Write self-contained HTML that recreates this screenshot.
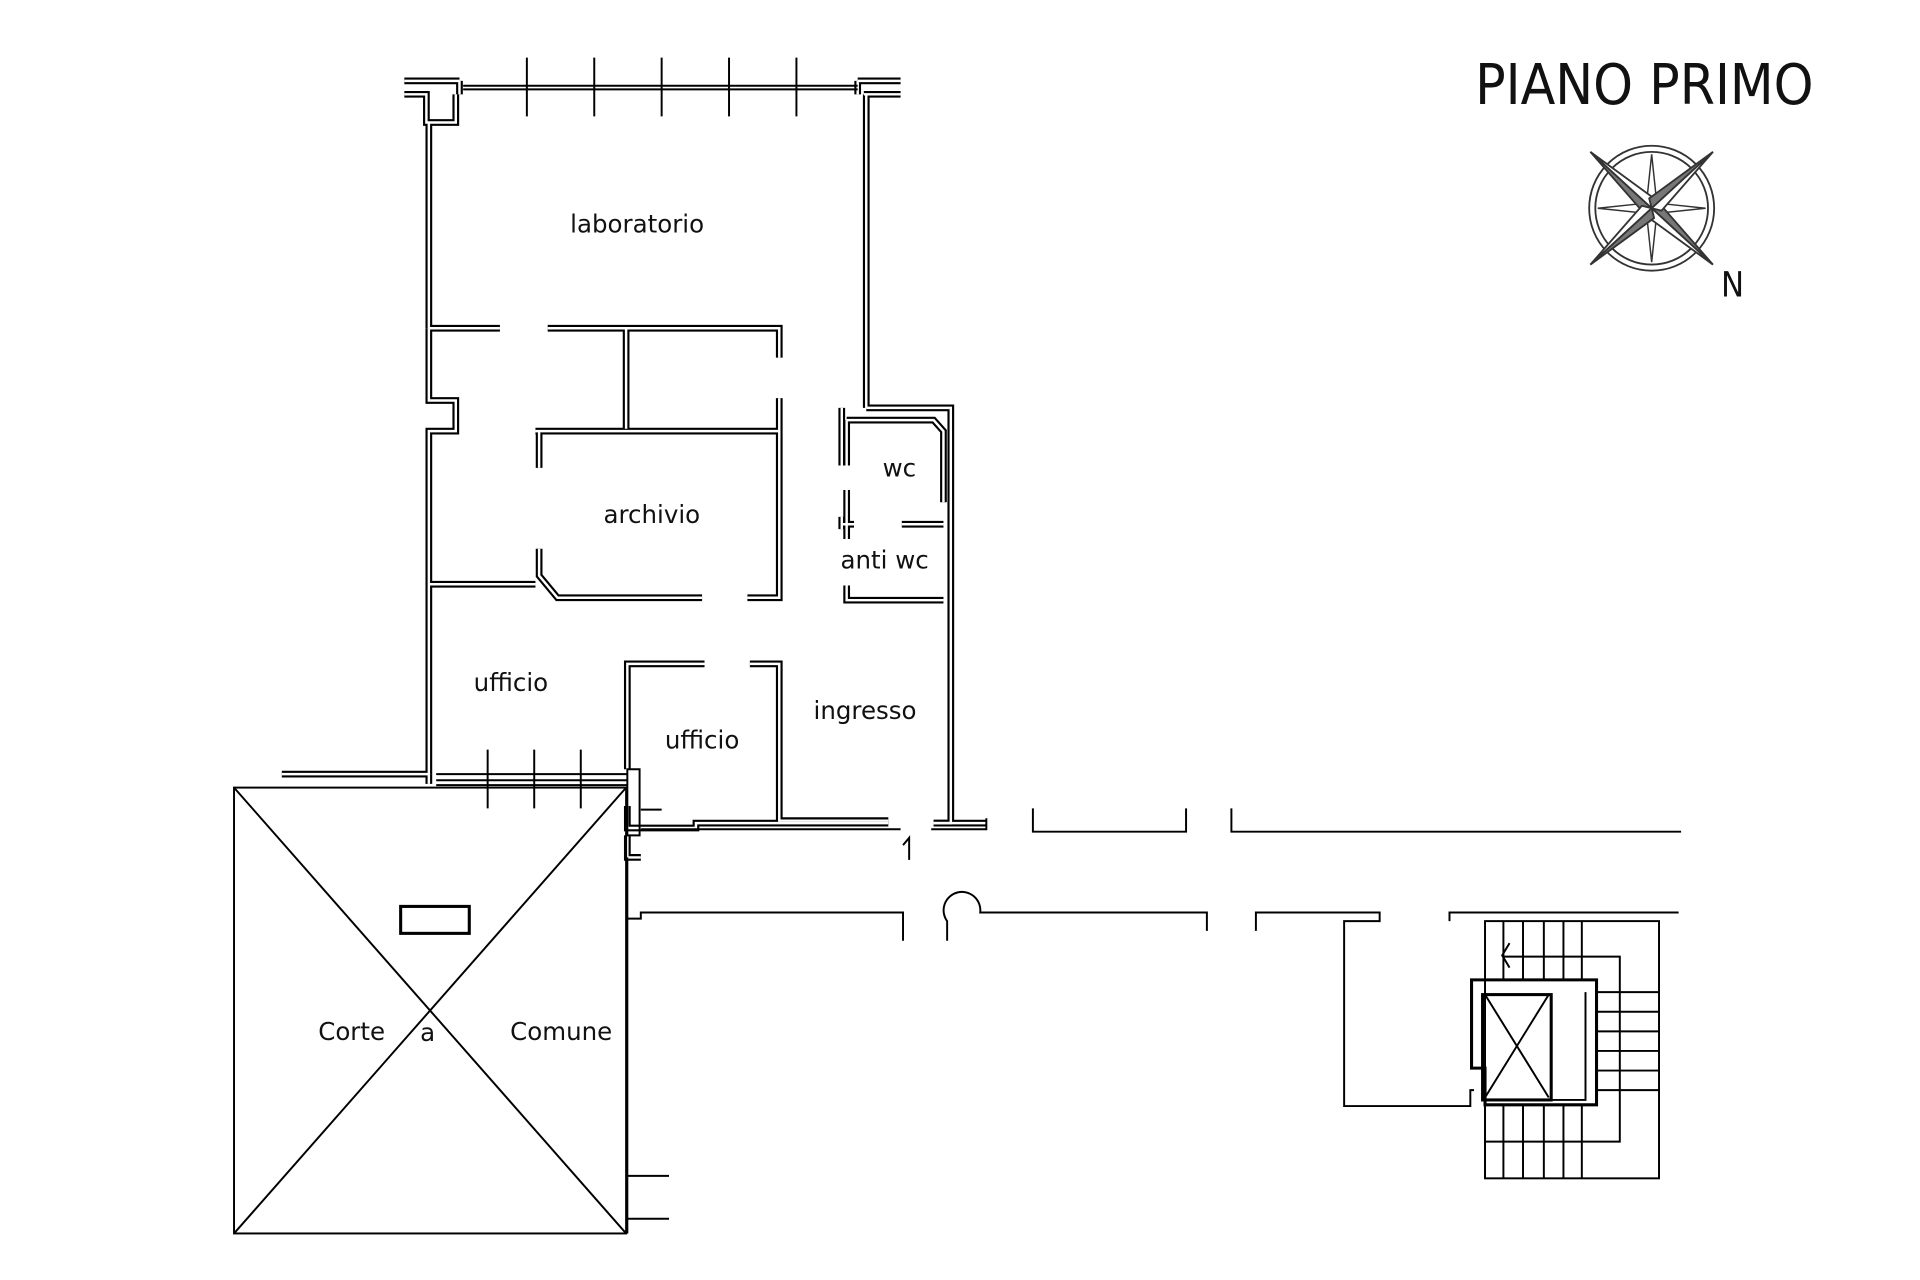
<!DOCTYPE html>
<html><head><meta charset="utf-8"><style>
html,body{margin:0;padding:0;background:#fff;}
svg{display:block;}
text{font-family:"DejaVu Sans","Liberation Sans",sans-serif;fill:#111;}
</style></head><body>
<svg width="1920" height="1280" viewBox="0 0 1567 1045" preserveAspectRatio="none" xmlns="http://www.w3.org/2000/svg">
<defs>
<g id="walls" fill="none">
 <path d="M330 66 H375 M700 66 H735 M330 77 H348 V100 H372 V77 M705 77 H735"/>
 <path d="M375 66 V77 M700 66 V77"/>
 <path d="M350 100 V268"/>
 <path d="M350 268 H408"/>
 <path d="M350 268 V327 H372 V352 H350 V632"/>
 <path d="M707 77 V333"/>
 <path d="M447 268 H636 V292"/>
 <path d="M511 268 V350"/>
 <path d="M636 325 V488 H610"/>
 <path d="M437 352 H636"/>
 <path d="M440 352 V382 M440 448 V470 L455 488 H573"/>
 <path d="M350 477 H437"/>
 <path d="M707 333 H776 V672 H762"/>
 <path d="M687 333 V380 M687 422 V432"/>
 <path d="M691 343 H762 L770 352 V410"/>
 <path d="M691 343 V380 M691 400 V440"/>
 <path d="M736 428 H770 M687 428 H697"/>
 <path d="M691 478 V490 H770"/>
 <path d="M575 542 H512 V628"/>
 <path d="M612 542 H636 V670 H725"/>
 <path d="M512 658 V676 H568 V672 H725"/>
 <path d="M762 672 H805"/>
 <path d="M350 632 H230 M350 632 V640"/>
 <path d="M512 682 V700 H523"/>
</g>
</defs>
<use href="#walls" stroke="#000" stroke-width="5.5"/>
<use href="#walls" stroke="#fff" stroke-width="2"/>

<g stroke="#000" stroke-width="1.6" fill="none">
 <path d="M378 70 H700 M378 73 H700"/>
 <path d="M430 47 V95 M485 47 V95 M540 47 V95 M595 47 V95 M650 47 V95"/>
 <path d="M356 632 H512 M356 637 H512 M356 641 H512"/>
 <path d="M398 612 V660 M436 612 V660 M474 612 V660"/>
 <path d="M512 628 H522 V682 H512 Z"/>
 <path d="M523 661 H540"/>
 <path d="M523 677 H735 M760 677 H805 V668 M843 660 V679 H968 V660 M1005 660 V679 H1372"/>
 <path d="M512 700 V1007"/>
 <path d="M512 750 H523 V745 H737 V768"/>
 <path d="M773 768 V752 A15 15 0 1 1 800 745 H985 V760"/>
 <path d="M1025 760 V745 H1126 V752 H1097 V903 H1200 V890 H1203"/>
 <path d="M1183 752 V745 H1370"/>
 <path d="M512 960 H546 M512 995 H546"/>
 <path d="M737 690 L742 684 V702"/>
 <rect x="191" y="643" width="320" height="364"/>
 <path d="M191 643 L511 1007 M511 643 L191 1007"/>
 <rect x="327" y="740" width="56" height="22" stroke-width="2.5"/>
 <rect x="1212" y="752" width="142" height="210"/>
 <path d="M1227 752 V800 M1243 752 V800 M1260 752 V800 M1276 752 V800 M1291 752 V800 M1227 781 H1322 V905 M1303 800 V902 H1212"/>
 <path d="M1303 810 H1354 M1303 826 H1354 M1303 842 H1354 M1303 858 H1354 M1303 874 H1354 M1303 890 H1354"/>
 <path d="M1212 902 V962 M1227 902 V962 M1243 902 V962 M1260 902 V962 M1276 902 V962 M1291 902 V962 M1212 932 H1322 V905"/>
 <path d="M1232 770 L1226 780 L1232 790"/>
 <path d="M1201 800 H1303 V902 H1212 V872 H1201 Z" stroke-width="2.5"/>
 <rect x="1210" y="812" width="56" height="86" stroke-width="2.5"/>
 <path d="M1212 812 L1264 896 M1264 812 L1212 896"/>
 <path d="M1266 812 V898 H1294 V810"/>
</g>

<g transform="translate(1348,170)" stroke="#333" fill="none">
 <circle r="51" stroke-width="1.5"/>
 <circle r="46" stroke-width="1.5"/>
 <path d="M0 -44 L4 -6 L0 0 L-4 -6 Z M0 44 L4 6 L0 0 L-4 6 Z M-44 0 L-6 4 L0 0 L-6 -4 Z M44 0 L6 4 L0 0 L6 -4 Z" fill="#fff" stroke-width="1.2"/>
 <path d="M-50 -46 L-8 2 L0 0 Z M50 46 L8 -2 L0 0 Z" fill="#777" stroke-width="1.5"/>
 <path d="M-50 -46 L2 -8 L0 0 Z M50 46 L-2 8 L0 0 Z" fill="#fff" stroke-width="1.5"/>
 <path d="M50 -46 L-2 -8 L0 0 Z M-50 46 L2 8 L0 0 Z" fill="#777" stroke-width="1.5"/>
 <path d="M50 -46 L8 2 L0 0 Z M-50 46 L-8 -2 L0 0 Z" fill="#fff" stroke-width="1.5"/>
</g>

<text x="1342" y="85" font-size="46" text-anchor="middle" style="font-family:'DejaVu Sans Condensed','DejaVu Sans',sans-serif" fill="#000">PIANO PRIMO</text>
<text x="1414" y="242" font-size="28" text-anchor="middle" style="font-family:'DejaVu Sans Condensed','DejaVu Sans',sans-serif">N</text>

<g font-size="20" text-anchor="middle" style="font-family:'DejaVu Sans Condensed','DejaVu Sans',sans-serif">
 <text x="520" y="190">laboratorio</text>
 <text x="532" y="427">archivio</text>
 <text x="734" y="389">wc</text>
 <text x="722" y="464">anti wc</text>
 <text x="417" y="564">ufficio</text>
 <text x="573" y="611">ufficio</text>
 <text x="706" y="587">ingresso</text>
</g>
<g font-size="20" text-anchor="middle" style="font-family:'Liberation Sans',sans-serif">
 <text x="287" y="849">Corte</text>
 <text x="349" y="850">a</text>
 <text x="458" y="849">Comune</text>
</g>
</svg>
</body></html>
